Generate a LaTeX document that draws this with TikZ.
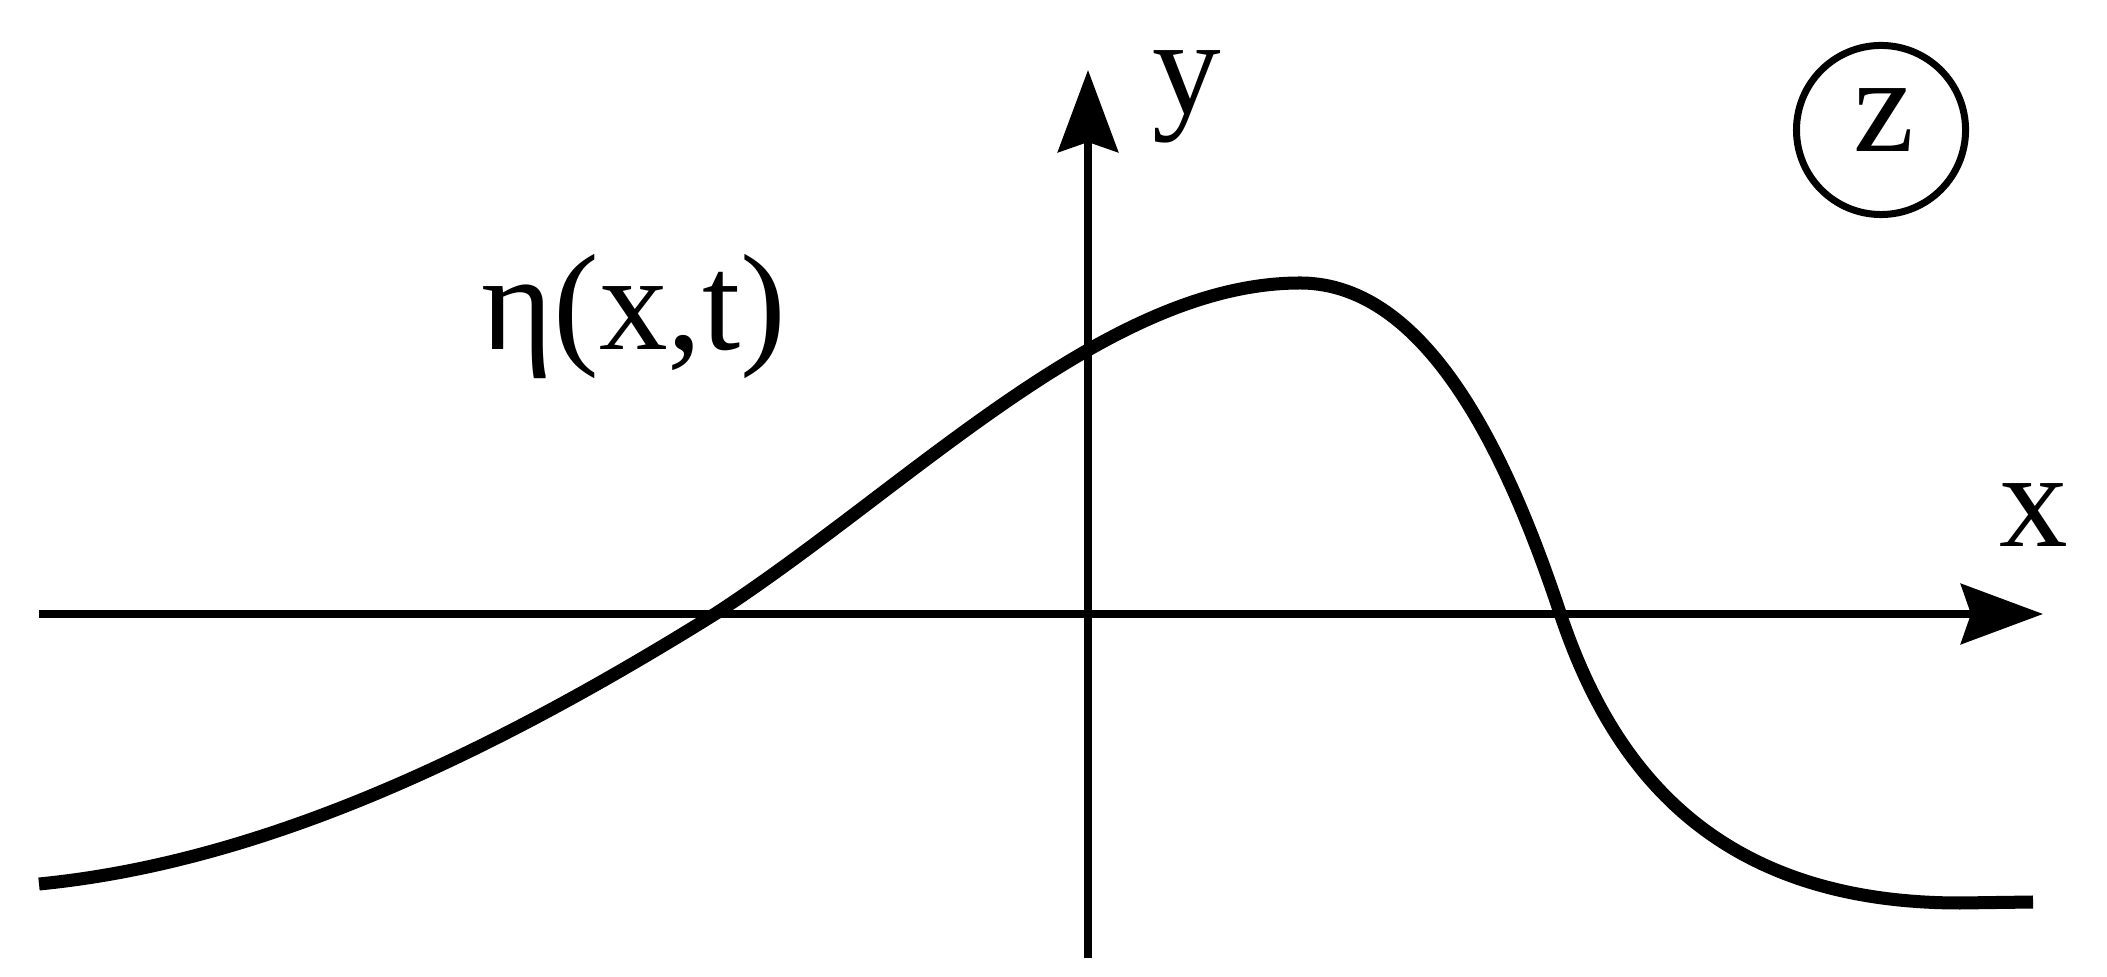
\documentclass[tikz,border=0pt]{standalone}
\usepackage{fontspec}
\setmainfont{LiberationSerif-Regular.ttf}
\usetikzlibrary{arrows.meta}
\begin{document}
\begin{tikzpicture}[x=0.01cm,y=-0.01cm,
  axis/.style={line width=0.08cm,-{Stealth[length=0.82cm,width=0.6cm,inset=0.1cm]}},
  wave/.style={line width=0.13cm},
  lbl/.style={inner sep=0pt,anchor=base,font=\fontsize{39}{47}\selectfont}]
\useasboundingbox (0,0) rectangle (2107,977);
\coordinate (xs) at (39,614);
\coordinate (xe) at (2043,614);
\coordinate (ys) at (1088,958);
\coordinate (ye) at (1088,70);
\draw[axis] (xs) -- (xe);
\draw[axis] (ys) -- (ye);
\coordinate (w0) at (39,884);
\coordinate (w1) at (715,614);
\coordinate (w2) at (1300,283);
\coordinate (w3) at (1560,613);
\coordinate (w4) at (1960,903);
\coordinate (w5) at (2033,902);
\draw[wave] (w0) .. controls (264,862) and (490,754) .. (w1)
  .. controls (910,487) and (1105,283) .. (w2)
  .. controls (1430,283) and (1510,463) .. (w3)
  .. controls (1610,763) and (1710,903) .. (w4) -- (w5);
\node[lbl] (ylab) at (1187,114) {y};
\node[lbl] (xlab) at (2034,547) {x};
\node[lbl] (eta) at (634,350) {η(x,t)};
\node[lbl] (zlab) at (1884,152) {z};
\node[draw,circle,line width=0.07cm,minimum size=1.69cm,inner sep=0pt] (zc) at (1881,130) {};
\end{tikzpicture}
\end{document}
